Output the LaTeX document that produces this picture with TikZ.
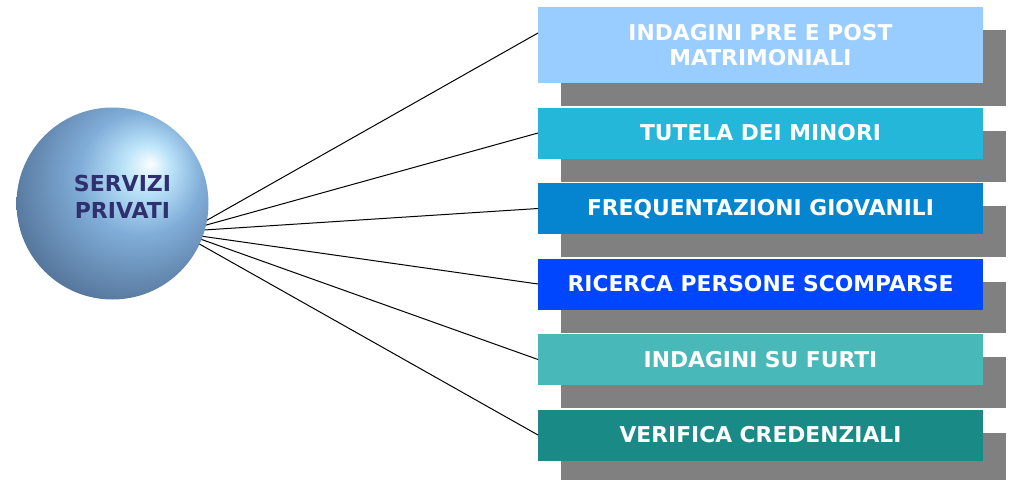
\documentclass[tikz,border=0pt]{standalone}
\usepackage{fontspec}
\setmainfont{DejaVu Sans}
\usepackage{tikz}
\usetikzlibrary{positioning, shadows}
\usepackage{xcolor}

\definecolor{ombra}{HTML}{808080}
\definecolor{c1}{HTML}{99CCFF}
\definecolor{c2}{HTML}{24B7DA}
\definecolor{c3}{HTML}{0585D0}
\definecolor{c4}{HTML}{0045FF}
\definecolor{c5}{HTML}{48B8B8}
\definecolor{c6}{HTML}{1A8A86}
\definecolor{testosfera}{RGB}{46,49,110}
\definecolor{sferaluce}{HTML}{FAFEFF}
\definecolor{sferachiaro}{HTML}{BCE4FA}
\definecolor{sferamedio}{HTML}{80ADD8}
\definecolor{sferascuro}{HTML}{58799F}
\definecolor{sferanotte}{HTML}{3C5068}

\pgfdeclareradialshading{sfera}{\pgfpoint{10bp}{10.5bp}}{%
  color(0bp)=(sferaluce); color(6bp)=(sferachiaro); color(16bp)=(sferamedio);
  color(31bp)=(sferascuro); color(42bp)=(sferanotte); color(60bp)=(sferanotte)}

\tikzset{
  voce/.style={rectangle, minimum width=445pt, minimum height=51pt, inner sep=0pt, outer sep=0pt,
    text=white, align=center, font=\bfseries\fontsize{21.8}{25}\selectfont,
    drop shadow={shadow xshift=23pt, shadow yshift=-23pt, opacity=1, fill=ombra}}
}

\begin{document}
\begin{tikzpicture}[x=1pt,y=1pt]
				\useasboundingbox (0,0) rectangle (1011,-479);
				\node (sfera) [circle,shading=sfera,minimum size=192pt,inner sep=0pt,outer sep=0pt] at (112.5,-203.5) {};
				\node (servizi) [text=testosfera,align=center,font=\bfseries\fontsize{22}{27}\selectfont] at ([xshift=10pt,yshift=7pt]sfera.center) {SERVIZI\\PRIVATI};
				\node (matrimoniali) [voce,fill=c1,minimum height=76pt] at (760.5,-45) {INDAGINI PRE E POST\\MATRIMONIALI};
				\node (minori) [voce,fill=c2,below=24.5pt of matrimoniali] {TUTELA DEI MINORI};
				\node (giovanili) [voce,fill=c3,below=24.5pt of minori] {FREQUENTAZIONI GIOVANILI};
				\node (scomparse) [voce,fill=c4,below=24.5pt of giovanili] {RICERCA PERSONE SCOMPARSE};
				\node (furti) [voce,fill=c5,below=24.5pt of scomparse] {INDAGINI SU FURTI};
				\node (credenziali) [voce,fill=c6,below=24.5pt of furti] {VERIFICA CREDENZIALI};
				\draw [line width=1pt](sfera.-10) -- ([yshift=12pt]matrimoniali.west);
				\draw [line width=1pt](sfera.-13.5) -- (minori.west);
				\draw [line width=1pt](sfera.-16.5) -- (giovanili.west);
				\draw [line width=1pt](sfera.-20) -- (scomparse.west);
				\draw [line width=1pt](sfera.-22.5) -- (furti.west);
				\draw [line width=1pt](sfera.-25) -- (credenziali.west);
			\end{tikzpicture}
\end{document}
